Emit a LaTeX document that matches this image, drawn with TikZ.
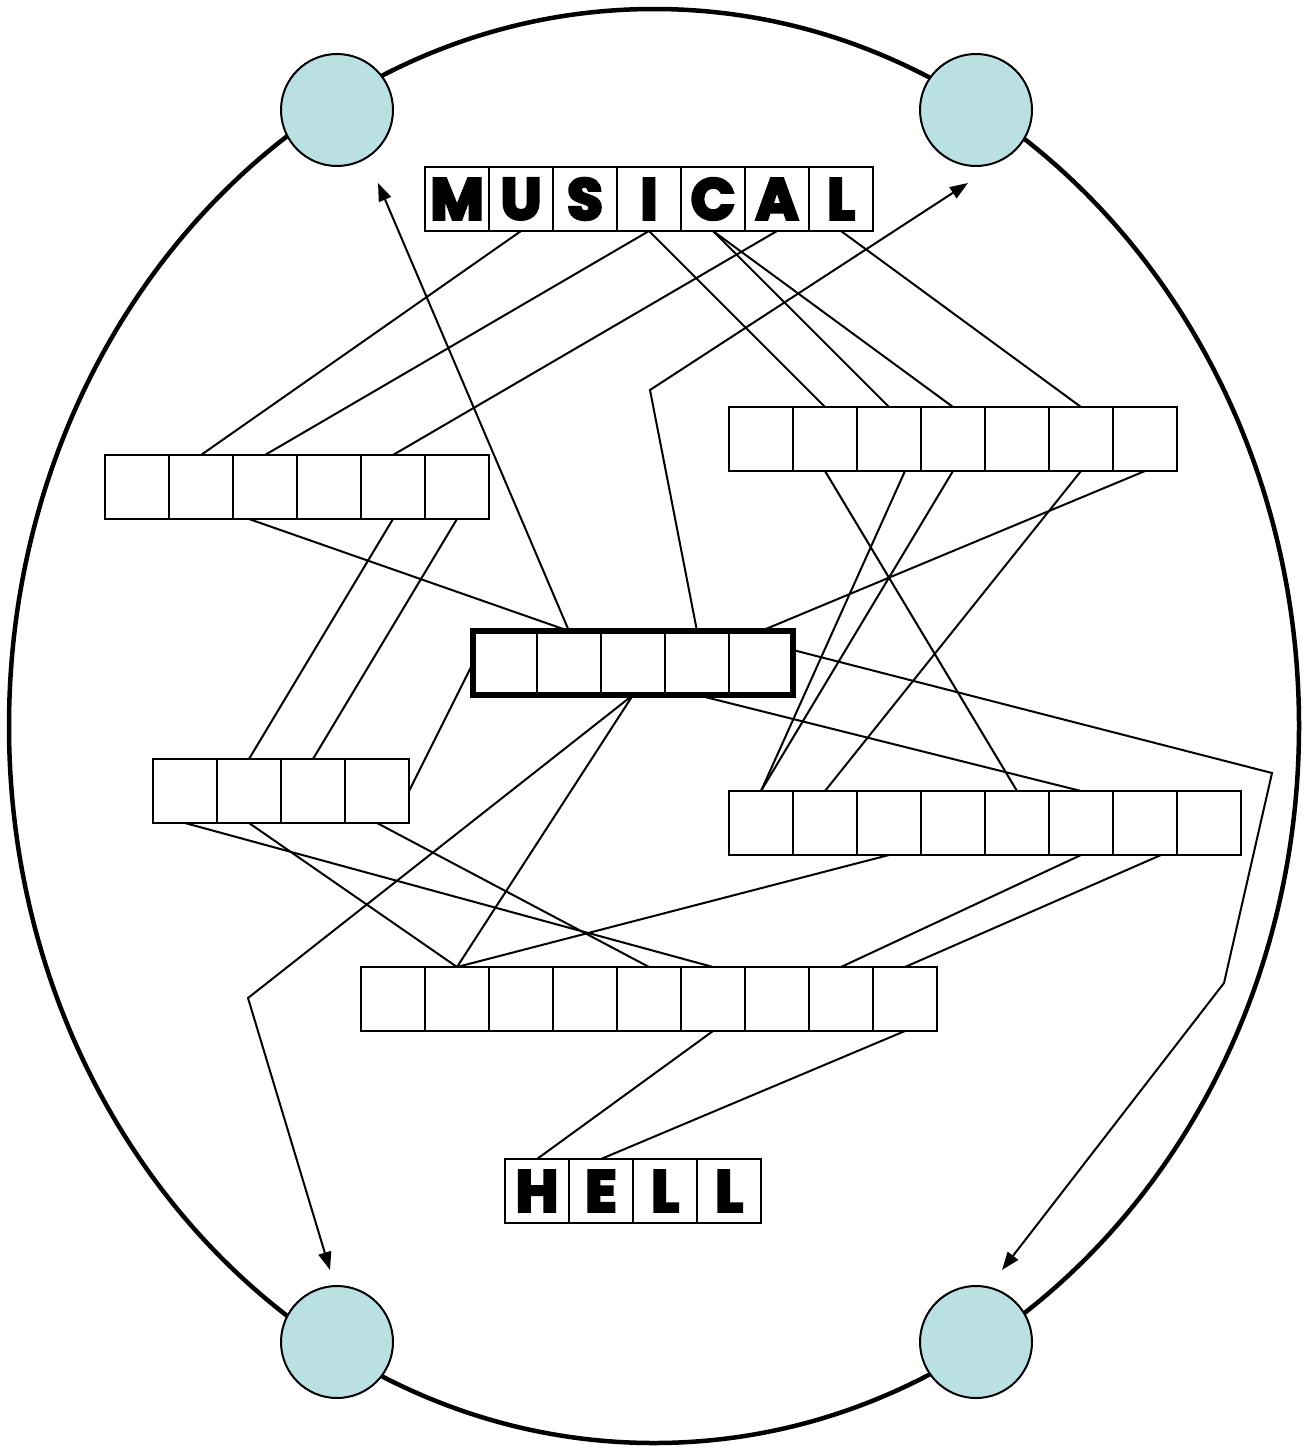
\documentclass[tikz,border=0pt]{standalone}
\usepackage{fontspec}
\newfontfamily\heavy[BoldFeatures={FakeBold=5}]{Poppins}
\usetikzlibrary{arrows.meta}
\definecolor{ball}{HTML}{BBE0E3}
\begin{document}
\begin{tikzpicture}[x=1pt,y=-1pt,
  cell/.style={draw, line width=2.5pt, minimum size=64pt, inner sep=0pt, outer sep=0pt,
    font=\heavy\bfseries\fontsize{58}{58}\selectfont},
  link/.style={line width=2pt},
  arr/.style={link, -{Triangle[length=18pt,width=13pt]}},
  ballst/.style={circle, draw, line width=2pt, fill=ball, minimum size=112pt, inner sep=0pt}]
\useasboundingbox (0,0) rectangle (1304,1448);
% outer ellipse
\draw[line width=4.5pt] (654,726) ellipse [x radius=645pt, y radius=717pt];
% balls
\node[ballst] (tl) at (337,110) {};
\node[ballst] (tr) at (976,110) {};
\node[ballst] (bl) at (337,1342) {};
\node[ballst] (br) at (976,1342) {};
% rows
\foreach \l [count=\i] in {M,U,S,I,C,A,L} \node[cell] (m\i) at ({425-32+64*\i},199) {\l};
\foreach \i in {1,...,6} \node[cell] (a\i) at ({105-32+64*\i},487) {};
\foreach \i in {1,...,7} \node[cell] (b\i) at ({729-32+64*\i},439) {};
\foreach \i in {1,...,5} \node[cell] (x\i) at ({473-32+64*\i},663) {};
\draw[line width=5.5pt] (x1.north west) rectangle (x5.south east);
\foreach \i in {1,...,4} \node[cell] (c\i) at ({153-32+64*\i},791) {};
\foreach \i in {1,...,8} \node[cell] (d\i) at ({729-32+64*\i},823) {};
\foreach \i in {1,...,9} \node[cell] (e\i) at ({361-32+64*\i},999) {};
\foreach \l [count=\i] in {H,E,L,L} \node[cell] (h\i) at ({505-32+64*\i},1191) {\l};
% free ends
\coordinate (tipTL) at (378,183);
\coordinate (tipTR) at (968,183);
\coordinate (tipBL) at (330,1270);
\coordinate (tipBR) at (1002,1270);
\coordinate (bendT) at (650,390);
\coordinate (bendBL) at (248,998);
\coordinate (bendR1) at (1272,773);
\coordinate (bendR2) at (1224,983);
% connectors
\draw[link] (m2.south) -- (a2.north);
\draw[link] (m4.south) -- (a3.north);
\draw[link] (m6.south) -- (a5.north);
\draw[link] (m4.south) -- (b2.north);
\draw[link] (m5.south) -- (b3.north);
\draw[link] (m5.south) -- (b4.north);
\draw[link] (m7.south) -- (b6.north);
\draw[link] ([xshift=-16pt]a3.south) -- (x2.north);
\draw[link] (a5.south) -- (c2.north);
\draw[link] (a6.south) -- (c3.north);
\draw[link] (c4.east) -- (x1.west);
\draw[link] (c1.south) -- (e6.north);
\draw[link] (c2.south) -- (e2.north);
\draw[link] (c4.south) -- (e5.north);
\draw[arr] (x3.south) -- (bendBL) -- (tipBL);
\draw[link] (x3.south) -- (e2.north);
\draw[link] (x4.south) -- (d6.north);
\draw[arr] ([yshift=13pt]x5.east) -- (bendR1) -- (bendR2) -- (tipBR);
\draw[link] (x5.north) -- (b7.south);
\draw[arr] (x2.north) -- (tipTL);
\draw[arr] (x4.north) -- (bendT) -- (tipTR);
\draw[link] (b2.south) -- (d5.north);
\draw[link] ([xshift=16pt]b3.south) -- (d1.north);
\draw[link] (b4.south) -- (d1.north);
\draw[link] (b6.south) -- (d2.north);
\draw[link] (d3.south) -- (e2.north);
\draw[link] (d6.south) -- (e8.north);
\draw[link] ([xshift=16pt]d7.south) -- (e9.north);
\draw[link] (e6.south) -- (h1.north);
\draw[link] (e9.south) -- (h2.north);
\end{tikzpicture}
\end{document}
